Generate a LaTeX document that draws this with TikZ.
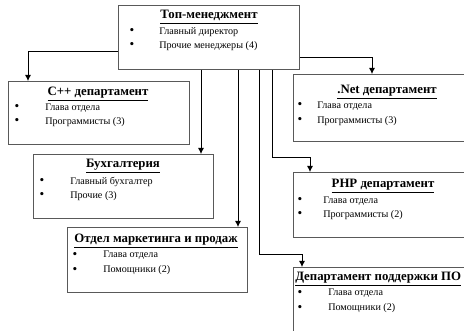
\documentclass[tikz,border=0pt]{standalone}
\usepackage{fontspec}
\setmainfont{Liberation Serif}
\usetikzlibrary{arrows.meta}

\begin{document}
\begin{tikzpicture}[x=0.75pt, y=-0.75pt,
    box/.style={draw=black!65, line width=0.8pt, anchor=north west, inner sep=0pt},
    title/.style={font=\fontsize{9.6pt}{11pt}\selectfont\bfseries, inner sep=0pt},
    item/.style={font=\fontsize{7.6pt}{9pt}\selectfont, anchor=west, inner sep=0pt},
    dot/.style={font=\fontsize{10pt}{10pt}\selectfont, anchor=center, inner sep=0pt},
    arr/.style={-{Latex[length=4.5pt, width=4.5pt]}, line width=0.6pt}]
        \useasboundingbox (0,0) rectangle (464,331);
        \clip (0,0) rectangle (464,331);

        % Boxes
        \node[box, minimum width={181*0.75pt}, minimum height={64*0.75pt}] (top) at (118,5) {};
        \node[box, minimum width={181*0.75pt}, minimum height={63*0.75pt}] (cpp) at (8,81) {};
        \node[box, minimum width={180*0.75pt}, minimum height={64*0.75pt}] (buh) at (33,154) {};
        \node[box, minimum width={180*0.75pt}, minimum height={65*0.75pt}] (mkt) at (67,227) {};
        \node[box, minimum width={180*0.75pt}, minimum height={67*0.75pt}] (net) at (293,74) {};
        \node[box, minimum width={180*0.75pt}, minimum height={65*0.75pt}] (php) at (293,172) {};
        \node[box, minimum width={180*0.75pt}, minimum height={80*0.75pt}] (sup) at (293,267) {};

        % Top management
        \node[title] (topt) at (209,17) {\underline{Топ-менеджмент}};
        \node[dot] (topd1) at (132,32) {•};
        \node[dot] (topd2) at (132,46) {•};
        \node[item] (topi1) at (159,32) {Главный директор};
        \node[item] (topi2) at (159,46) {Прочие менеджеры (4)};

        % C++
        \node[title] (cppt) at (98,94) {\underline{C++ департамент}};
        \node[dot] (cppd1) at (17,108) {•};
        \node[dot] (cppd2) at (17,122) {•};
        \node[item] (cppi1) at (45,108) {Глава отдела};
        \node[item] (cppi2) at (45,122) {Программисты (3)};

        % Accounting
        \node[title] (buht) at (123,166) {\underline{Бухгалтерия}};
        \node[dot] (buhd1) at (42,182) {•};
        \node[dot] (buhd2) at (42,196) {•};
        \node[item] (buhi1) at (70,182) {Главный бухгалтер};
        \node[item] (buhi2) at (70,196) {Прочие (3)};

        % Marketing
        \node[title] (mktt) at (156,241) {\underline{Отдел маркетинга и продаж}};
        \node[dot] (mktd1) at (75,255) {•};
        \node[dot] (mktd2) at (75,270) {•};
        \node[item] (mkti1) at (103,255) {Глава отдела};
        \node[item] (mkti2) at (103,270) {Помощники (2)};

        % .Net
        \node[title] (nett) at (387,92) {\underline{.Net департамент}};
        \node[dot] (netd1) at (300,106) {•};
        \node[dot] (netd2) at (300,121) {•};
        \node[item] (neti1) at (317,106) {Глава отдела};
        \node[item] (neti2) at (317,121) {Программисты (3)};

        % PHP
        \node[title] (phpt) at (383,186) {\underline{PHP департамент}};
        \node[dot] (phpd1) at (300,201) {•};
        \node[dot] (phpd2) at (300,215) {•};
        \node[item] (phpi1) at (323,201) {Глава отдела};
        \node[item] (phpi2) at (323,215) {Программисты (2)};

        % Support
        \node[title, anchor=west] (supt) at (295,279) {\underline{Департамент поддержки ПО}};
        \node[dot] (supd1) at (300,293) {•};
        \node[dot] (supd2) at (300,308) {•};
        \node[item] (supi1) at (328,293) {Глава отдела};
        \node[item] (supi2) at (328,308) {Помощники (2)};

        % Connectors
        \draw[arr] (top.west |- 0,51) -| (cpp.north -| 28,0);
        \draw[arr] (top.east |- 0,57) -| (net.north -| 372,0);
        \draw[arr] (top.south -| 201,0) -- (buh.north -| 201,0);
        \draw[arr] (top.south -| 238,0) -- (mkt.north -| 238,0);
        \draw[arr] (top.south -| 272,0) |- (310,157) -- (php.north -| 310,0);
        \draw[arr] (top.south -| 259,0) |- (302,254) -- (sup.north -| 302,0);
    \end{tikzpicture}
\end{document}
